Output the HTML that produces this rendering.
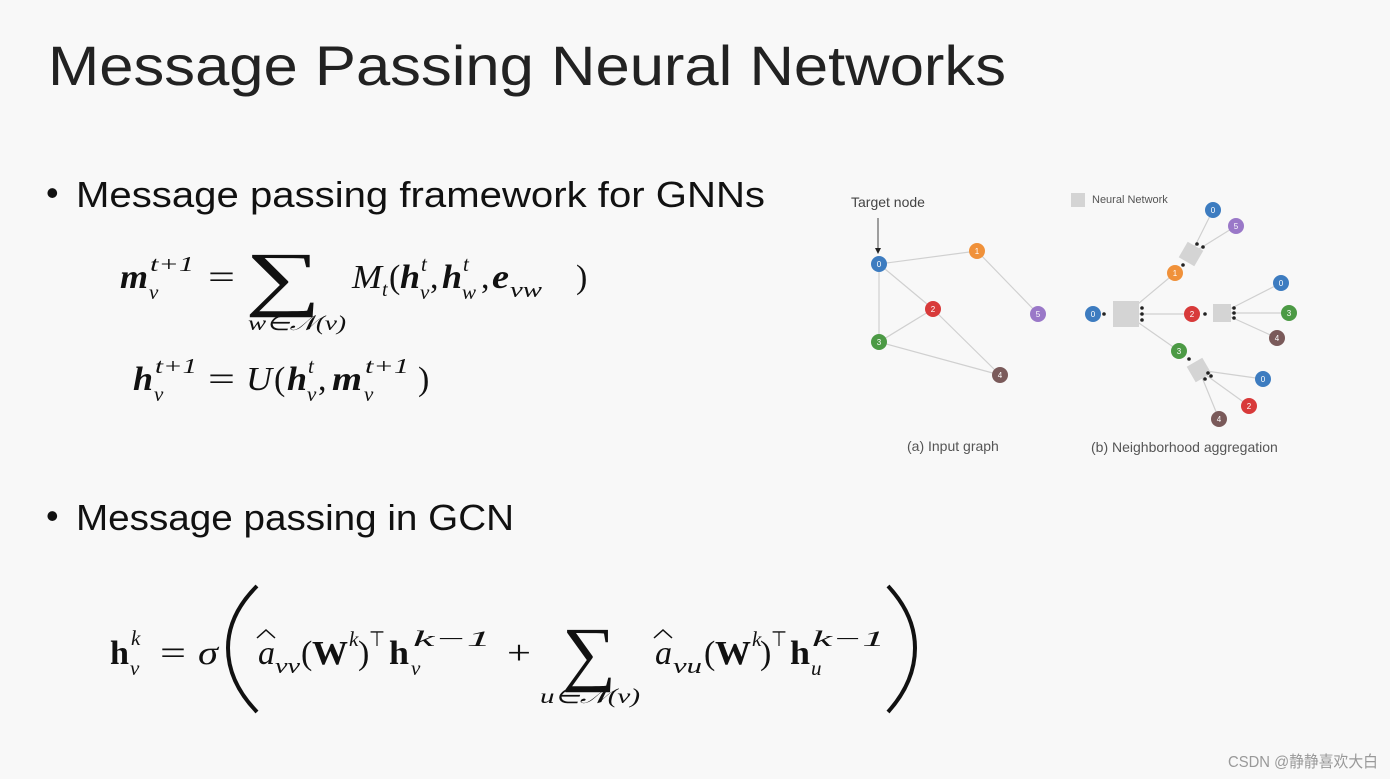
<!DOCTYPE html>
<html><head><meta charset="utf-8"><style>
html,body{margin:0;padding:0;background:#f8f8f8;}
svg{display:block}
.s{font-family:"Liberation Sans",sans-serif;}
.m{font-family:"Liberation Serif",serif;font-style:italic;}
.b{font-weight:bold;}
.r{font-style:normal;}
.n{font-family:"Liberation Sans",sans-serif;font-size:8px;fill:#fff;text-anchor:middle;}
</style></head><body>
<svg width="1390" height="779" viewBox="0 0 1390 779" xmlns="http://www.w3.org/2000/svg">
<rect width="1390" height="779" fill="#f8f8f8"/>
<text class="s" x="48" y="85" font-size="56" fill="#222" textLength="958" lengthAdjust="spacingAndGlyphs">Message Passing Neural Networks</text>
<text class="s" x="46" y="205" font-size="36" fill="#111">•</text>
<text class="s" x="76" y="207" font-size="36" fill="#111" textLength="689" lengthAdjust="spacingAndGlyphs">Message passing framework for GNNs</text>
<text class="s" x="46" y="528" font-size="36" fill="#111">•</text>
<text class="s" x="76" y="530" font-size="36" fill="#111" textLength="438" lengthAdjust="spacingAndGlyphs">Message passing in GCN</text>

<!-- formula 1 -->
<g fill="#111">
<text class="m b" x="120" y="288" font-size="34" textLength="28" lengthAdjust="spacingAndGlyphs">m</text>
<text class="m" x="149" y="299" font-size="21">v</text>
<text class="m" x="150" y="271" font-size="21" textLength="44" lengthAdjust="spacingAndGlyphs">t+1</text>
<text class="m r" x="208" y="288" font-size="34" textLength="27" lengthAdjust="spacingAndGlyphs">=</text>
<text class="m r" x="245" y="302" font-size="72" textLength="76" lengthAdjust="spacingAndGlyphs">∑</text>
<text class="m" x="248" y="330" font-size="21" textLength="98" lengthAdjust="spacingAndGlyphs">w∈𝒩(v)</text>
<text class="m" x="352" y="288" font-size="34" textLength="30" lengthAdjust="spacingAndGlyphs">M</text>
<text class="m" x="382" y="296" font-size="20">t</text>
<text class="m r" x="389" y="288" font-size="34">(</text>
<text class="m b" x="400" y="288" font-size="34" textLength="20" lengthAdjust="spacingAndGlyphs">h</text>
<text class="m" x="420" y="299" font-size="21">v</text>
<text class="m" x="421" y="271" font-size="21">t</text>
<text class="m r" x="430" y="288" font-size="34">,</text>
<text class="m b" x="442" y="288" font-size="34" textLength="20" lengthAdjust="spacingAndGlyphs">h</text>
<text class="m" x="462" y="299" font-size="21">w</text>
<text class="m" x="463" y="271" font-size="21">t</text>
<text class="m r" x="481" y="288" font-size="34">,</text>
<text class="m b" x="492" y="288" font-size="34" textLength="17" lengthAdjust="spacingAndGlyphs">e</text>
<text class="m" x="510" y="297" font-size="22" textLength="32" lengthAdjust="spacingAndGlyphs">vw</text>
<text class="m r" x="576" y="288" font-size="34">)</text>

<text class="m b" x="133" y="390" font-size="34" textLength="20" lengthAdjust="spacingAndGlyphs">h</text>
<text class="m" x="154" y="401" font-size="21">v</text>
<text class="m" x="155" y="373" font-size="21" textLength="42" lengthAdjust="spacingAndGlyphs">t+1</text>
<text class="m r" x="208" y="390" font-size="34" textLength="27" lengthAdjust="spacingAndGlyphs">=</text>
<text class="m" x="246" y="390" font-size="34" textLength="26" lengthAdjust="spacingAndGlyphs">U</text>
<text class="m r" x="274" y="390" font-size="34">(</text>
<text class="m b" x="287" y="390" font-size="34" textLength="20" lengthAdjust="spacingAndGlyphs">h</text>
<text class="m" x="307" y="401" font-size="21">v</text>
<text class="m" x="308" y="373" font-size="21">t</text>
<text class="m r" x="318" y="390" font-size="34">,</text>
<text class="m b" x="332" y="390" font-size="34" textLength="30" lengthAdjust="spacingAndGlyphs">m</text>
<text class="m" x="364" y="401" font-size="21">v</text>
<text class="m" x="365" y="373" font-size="21" textLength="44" lengthAdjust="spacingAndGlyphs">t+1</text>
<text class="m r" x="418" y="390" font-size="34">)</text>
</g>

<!-- GCN formula -->
<g fill="#111">
<text class="m r b" x="110" y="664" font-size="34" textLength="19" lengthAdjust="spacingAndGlyphs">h</text>
<text class="m" x="130" y="675" font-size="21">v</text>
<text class="m" x="131" y="645" font-size="21">k</text>
<text class="m r" x="160" y="664" font-size="34" textLength="26" lengthAdjust="spacingAndGlyphs">=</text>
<text class="m" x="198" y="664" font-size="34" textLength="20" lengthAdjust="spacingAndGlyphs">σ</text>
<path d="M257 586 Q228 615 228 648 Q228 682 257 712" stroke="#111" stroke-width="4" fill="none"/>
<text class="m" x="258" y="664" font-size="34" textLength="17" lengthAdjust="spacingAndGlyphs">a</text>
<path d="M257 638 L266 630 L275 638" stroke="#111" stroke-width="1.5" fill="none"/>
<text class="m" x="275" y="673" font-size="22" textLength="25" lengthAdjust="spacingAndGlyphs">vv</text>
<text class="m r" x="301" y="664" font-size="34">(</text>
<text class="m r b" x="312" y="664" font-size="34" textLength="36" lengthAdjust="spacingAndGlyphs">W</text>
<text class="m" x="349" y="646" font-size="21">k</text>
<text class="m r" x="358" y="664" font-size="34">)</text>
<text class="m r" x="369" y="646" font-size="21" textLength="16" lengthAdjust="spacingAndGlyphs">⊤</text>
<text class="m r b" x="389" y="664" font-size="34" textLength="20" lengthAdjust="spacingAndGlyphs">h</text>
<text class="m" x="411" y="675" font-size="21">v</text>
<text class="m" x="413" y="646" font-size="22" textLength="78" lengthAdjust="spacingAndGlyphs">k−1</text>
<text class="m r" x="507" y="664" font-size="34" textLength="24" lengthAdjust="spacingAndGlyphs">+</text>
<text class="m r" x="562" y="677" font-size="72" textLength="54" lengthAdjust="spacingAndGlyphs">∑</text>
<text class="m" x="540" y="703" font-size="21" textLength="100" lengthAdjust="spacingAndGlyphs">u∈𝒩(v)</text>
<text class="m" x="655" y="664" font-size="34" textLength="17" lengthAdjust="spacingAndGlyphs">a</text>
<path d="M654 638 L663 630 L672 638" stroke="#111" stroke-width="1.5" fill="none"/>
<text class="m" x="673" y="673" font-size="22" textLength="29" lengthAdjust="spacingAndGlyphs">vu</text>
<text class="m r" x="704" y="664" font-size="34">(</text>
<text class="m r b" x="715" y="664" font-size="34" textLength="36" lengthAdjust="spacingAndGlyphs">W</text>
<text class="m" x="752" y="646" font-size="21">k</text>
<text class="m r" x="760" y="664" font-size="34">)</text>
<text class="m r" x="771" y="646" font-size="21" textLength="16" lengthAdjust="spacingAndGlyphs">⊤</text>
<text class="m r b" x="790" y="664" font-size="34" textLength="20" lengthAdjust="spacingAndGlyphs">h</text>
<text class="m" x="811" y="675" font-size="21">u</text>
<text class="m" x="812" y="646" font-size="22" textLength="73" lengthAdjust="spacingAndGlyphs">k−1</text>
<path d="M888 586 Q915 615 915 648 Q915 682 888 712" stroke="#111" stroke-width="4" fill="none"/>
</g>

<!-- diagram (a) -->
<defs><marker id="ar" markerWidth="6" markerHeight="6" refX="5" refY="3" orient="auto"><path d="M0,0 L6,3 L0,6 z" fill="#222"/></marker></defs>
<text class="s" x="851" y="207" font-size="14" fill="#444">Target node</text>
<line x1="878" y1="218" x2="878" y2="253" stroke="#444" stroke-width="1" marker-end="url(#ar)"/>
<g stroke="#d0d0d0" stroke-width="1.2">
<line x1="879" y1="264" x2="977" y2="251"/><line x1="977" y1="251" x2="1038" y2="314"/>
<line x1="879" y1="264" x2="933" y2="309"/><line x1="879" y1="264" x2="879" y2="342"/>
<line x1="879" y1="342" x2="933" y2="309"/><line x1="879" y1="342" x2="1000" y2="375"/>
<line x1="933" y1="309" x2="1000" y2="375"/>
</g>
<g>
<circle cx="879" cy="264" r="8" fill="#3d7cc0"/><text class="n" x="879" y="267">0</text>
<circle cx="977" cy="251" r="8" fill="#f0913a"/><text class="n" x="977" y="254">1</text>
<circle cx="933" cy="309" r="8" fill="#d83a3a"/><text class="n" x="933" y="312">2</text>
<circle cx="1038" cy="314" r="8" fill="#9a78c8"/><text class="n" x="1038" y="317">5</text>
<circle cx="879" cy="342" r="8" fill="#4c9a45"/><text class="n" x="879" y="345">3</text>
<circle cx="1000" cy="375" r="8" fill="#7a5a5a"/><text class="n" x="1000" y="378">4</text>
</g>
<text class="s" x="907" y="451" font-size="14" fill="#555">(a) Input graph</text>

<!-- diagram (b) -->
<rect x="1071" y="193" width="14" height="14" fill="#d4d4d4"/>
<text class="s" x="1092" y="203" font-size="11" fill="#555">Neural Network</text>
<g stroke="#d0d0d0" stroke-width="1.2">
<line x1="1126" y1="314" x2="1192" y2="314"/><line x1="1126" y1="314" x2="1175" y2="273"/><line x1="1126" y1="314" x2="1179" y2="351"/>
<line x1="1222" y1="313" x2="1281" y2="283"/><line x1="1222" y1="313" x2="1289" y2="313"/><line x1="1222" y1="313" x2="1277" y2="338"/>
<line x1="1191" y1="254" x2="1213" y2="210"/><line x1="1191" y1="254" x2="1236" y2="226"/>
<line x1="1199" y1="370" x2="1263" y2="379"/><line x1="1199" y1="370" x2="1249" y2="406"/><line x1="1199" y1="370" x2="1219" y2="419"/>
</g>
<rect x="1113" y="301" width="26" height="26" fill="#d4d4d4"/>
<rect x="1213" y="304" width="18" height="18" fill="#d4d4d4"/>
<rect x="1182" y="245" width="18" height="18" fill="#d4d4d4" transform="rotate(30 1191 254)"/>
<rect x="1190" y="361" width="18" height="18" fill="#d4d4d4" transform="rotate(-30 1199 370)"/>
<g fill="#222">
<circle cx="1142" cy="308" r="1.8"/><circle cx="1142" cy="314" r="1.8"/><circle cx="1142" cy="320" r="1.8"/>
<circle cx="1234" cy="308" r="1.8"/><circle cx="1234" cy="313" r="1.8"/><circle cx="1234" cy="318" r="1.8"/>
<circle cx="1205" cy="314" r="1.8"/><circle cx="1104" cy="314" r="1.8"/>
<circle cx="1197" cy="244" r="1.8"/><circle cx="1203" cy="247" r="1.8"/><circle cx="1183" cy="265" r="1.8"/>
<circle cx="1208" cy="373" r="1.8"/><circle cx="1205" cy="379" r="1.8"/><circle cx="1211" cy="376" r="1.8"/><circle cx="1189" cy="359" r="1.8"/>
</g>
<g>
<circle cx="1093" cy="314" r="8" fill="#3d7cc0"/><text class="n" x="1093" y="317">0</text>
<circle cx="1192" cy="314" r="8" fill="#d83a3a"/><text class="n" x="1192" y="317">2</text>
<circle cx="1281" cy="283" r="8" fill="#3d7cc0"/><text class="n" x="1281" y="286">0</text>
<circle cx="1289" cy="313" r="8" fill="#4c9a45"/><text class="n" x="1289" y="316">3</text>
<circle cx="1277" cy="338" r="8" fill="#7a5a5a"/><text class="n" x="1277" y="341">4</text>
<circle cx="1175" cy="273" r="8" fill="#f0913a"/><text class="n" x="1175" y="276">1</text>
<circle cx="1213" cy="210" r="8" fill="#3d7cc0"/><text class="n" x="1213" y="213">0</text>
<circle cx="1236" cy="226" r="8" fill="#9a78c8"/><text class="n" x="1236" y="229">5</text>
<circle cx="1179" cy="351" r="8" fill="#4c9a45"/><text class="n" x="1179" y="354">3</text>
<circle cx="1263" cy="379" r="8" fill="#3d7cc0"/><text class="n" x="1263" y="382">0</text>
<circle cx="1249" cy="406" r="8" fill="#d83a3a"/><text class="n" x="1249" y="409">2</text>
<circle cx="1219" cy="419" r="8" fill="#7a5a5a"/><text class="n" x="1219" y="422">4</text>
</g>
<text class="s" x="1091" y="452" font-size="14" fill="#555">(b) Neighborhood aggregation</text>

<text x="1228" y="767" font-family="'Liberation Sans','Noto Sans CJK SC',sans-serif" font-size="16" fill="#999" textLength="150" lengthAdjust="spacingAndGlyphs">CSDN @静静喜欢大白</text>
</svg>
</body></html>
